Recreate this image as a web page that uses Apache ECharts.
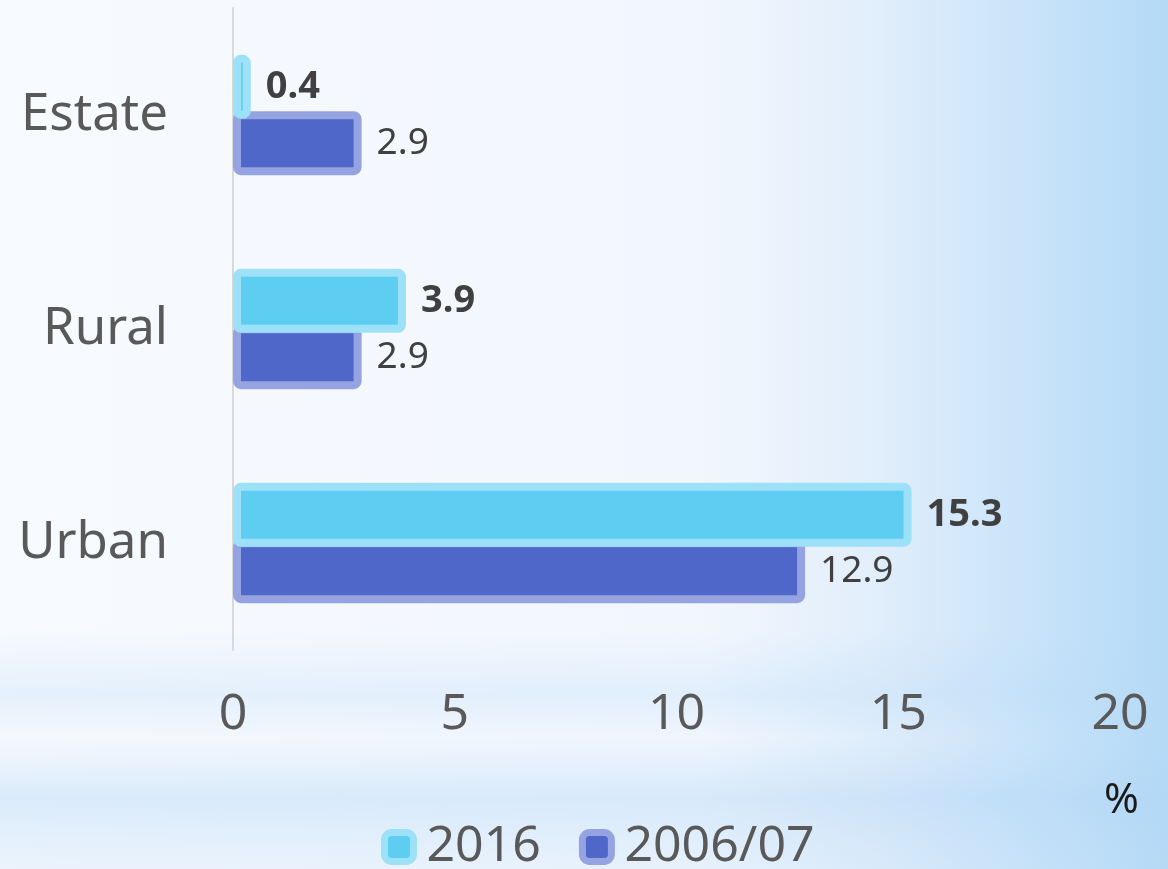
<!DOCTYPE html>
<html>
<head>
<meta charset="utf-8">
<script src="https://cdn.jsdelivr.net/npm/echarts@6/dist/echarts.min.js"></script>
<style>
  html, body { margin: 0; padding: 0; }
  #chart { width: 1168px; height: 869px; }
</style>
</head>
<body>
<div id="chart"></div>
<script>
var categories = ['Estate', 'Rural', 'Urban'];
var values2016 = [0.4, 3.9, 15.3];
var values2006 = [2.9, 2.9, 12.9];
var xTicks = { min: 0, max: 20, interval: 5 };

var myChart = echarts.init(document.getElementById('chart'));

var font = 'Noto Sans';

option = {
  backgroundColor: {
    type: 'linear', x: 0, y: 0, x2: 1, y2: 0,
    colorStops: [
      { offset: 0, color: '#f7fafe' },
      { offset: 0.6, color: '#f2f7fe' },
      { offset: 0.75, color: '#e1eefb' },
      { offset: 0.85, color: '#cfe6fa' },
      { offset: 1, color: '#b4daf7' }
    ]
  },
  graphic: [
    {
      type: 'rect',
      silent: true,
      z: -10,
      shape: { x: 0, y: 630, width: 1168, height: 239 },
      style: {
        fill: {
          type: 'linear', x: 0, y: 0, x2: 0, y2: 1,
          colorStops: [
            { offset: 0, color: 'rgba(185,218,246,0)' },
            { offset: 0.27, color: 'rgba(185,218,246,0.3)' },
            { offset: 0.45, color: 'rgba(185,218,246,0.05)' },
            { offset: 0.7, color: 'rgba(175,212,245,0.4)' },
            { offset: 1, color: 'rgba(185,218,246,0.2)' }
          ]
        }
      }
    },
    {
      type: 'text',
      left: 1104,
      top: 780,
      style: { text: '%', font: '42px "Noto Sans"', fill: '#1a1a1a' }
    }
  ],
  legend: {
    bottom: -8,
    left: 376,
    itemWidth: 29,
    itemHeight: 29,
    itemGap: 38,
    itemStyle: { borderWidth: 7, borderRadius: 3 },
    textStyle: { fontFamily: font, fontSize: 50, color: '#595959', padding: [0, 0, 0, 8] },
    data: ['2016', '2006/07']
  },
  grid: {
    left: 233,
    right: 48,
    top: 8,
    bottom: 219
  },
  xAxis: {
    type: 'value',
    min: xTicks.min,
    max: xTicks.max,
    interval: xTicks.interval,
    axisLine: { show: false },
    axisTick: { show: false },
    splitLine: { show: false },
    axisLabel: { fontFamily: font, fontSize: 50, color: '#595959', margin: 40 }
  },
  yAxis: {
    type: 'category',
    inverse: true,
    data: categories,
    axisLine: { show: true, lineStyle: { color: '#d9d9d9', width: 2 } },
    axisTick: { show: false },
    axisLabel: { fontFamily: font, fontSize: 51, color: '#595959', margin: 65 }
  },
  series: [
    {
      name: '2016',
      type: 'bar',
      z: 3,
      data: values2016,
      barWidth: 64,
      barGap: '-12%',
      itemStyle: {
        color: '#5ecdf2',
        borderColor: '#9de1f8',
        borderWidth: 8,
        borderRadius: 4
      },
      label: {
        show: true,
        position: 'right',
        distance: 15,
        fontFamily: font,
        fontSize: 38,
        fontWeight: 'bold',
        color: '#404040'
      }
    },
    {
      name: '2006/07',
      type: 'bar',
      z: 2,
      data: values2006,
      barWidth: 64,
      barGap: '-12%',
      itemStyle: {
        color: '#4f67c9',
        borderColor: '#95a3e0',
        borderWidth: 8,
        borderRadius: 4
      },
      label: {
        show: true,
        position: 'right',
        distance: 15,
        fontFamily: font,
        fontSize: 37,
        color: '#404040'
      }
    }
  ]
};

myChart.setOption(option);
</script>
</body>
</html>
